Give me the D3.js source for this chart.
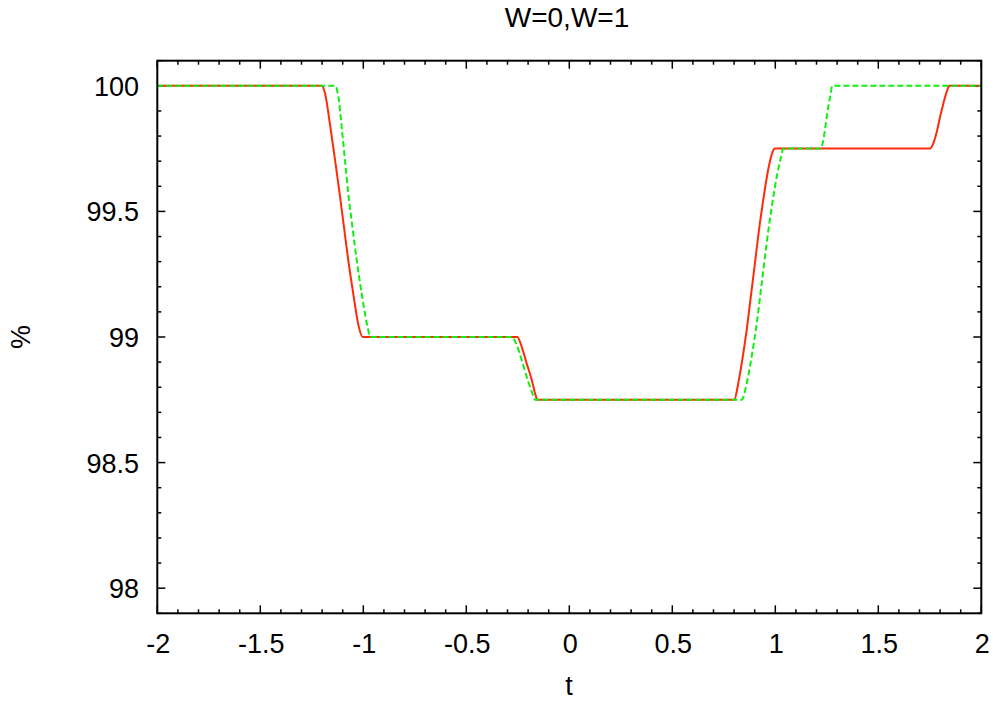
<!DOCTYPE html>
<html>
<head>
<meta charset="utf-8">
<script src="https://cdn.jsdelivr.net/npm/d3@7"></script>
<style>
  body { margin: 0; background: #fff; }
  svg text { font-family: "Liberation Sans", Arial, sans-serif; fill: #000; }
</style>
</head>
<body>
<svg id="chart" width="996" height="702"></svg>
<script>
  // Data
  const xTicks = [-2, -1.5, -1, -0.5, 0, 0.5, 1, 1.5, 2];
  const xTickLabels = ["-2", "-1.5", "-1", "-0.5", "0", "0.5", "1", "1.5", "2"];
  const yTicks = [98, 98.5, 99, 99.5, 100];
  const yTickLabels = ["98", "98.5", "99", "99.5", "100"];

  // W=0 (red, solid)
  const redT = [-2, -1.202, -1.186, -1.160, -1.137, -1.115, -1.094, -1.073, -1.049, -1.022, -1.003,
    -0.252, -0.231, -0.207, -0.182, -0.166, -0.155,
    0.801, 0.820, 0.837, 0.861, 0.885, 0.901, 0.925, 0.942, 0.958, 0.974, 0.987, 0.998,
    1.751, 1.767, 1.784, 1.800, 1.816, 1.832, 1.845, 2];
  const redV = [100, 100, 99.970, 99.837, 99.704, 99.572, 99.439, 99.306, 99.174, 99.041, 99.0,
    99.0, 98.961, 98.895, 98.828, 98.775, 98.75,
    98.75, 98.815, 98.895, 99.027, 99.187, 99.293, 99.452, 99.548, 99.632, 99.700, 99.737, 99.75,
    99.75, 99.771, 99.817, 99.877, 99.930, 99.976, 100, 100];

  // W=1 (green, dashed)
  const greenT = [-2, -1.137, -1.121, -1.105, -1.089, -1.073, -1.053, -1.032, -1.008, -0.983, -0.964,
    -0.280, -0.255, -0.231, -0.207, -0.182, -0.166,
    0.837, 0.861, 0.885, 0.910, 0.934, 0.958, 0.983, 1.007, 1.028, 1.039,
    1.220, 1.236, 1.252, 1.266, 1.277, 2];
  const greenV = [100, 100, 99.956, 99.837, 99.704, 99.572, 99.439, 99.306, 99.174, 99.054, 99.0,
    99.0, 98.968, 98.908, 98.842, 98.782, 98.75,
    98.75, 98.815, 98.921, 99.054, 99.213, 99.373, 99.518, 99.638, 99.717, 99.75,
    99.75, 99.797, 99.890, 99.956, 100, 100];

  const plotLeft = 157.3, plotRight = 981.3, plotTop = 60.7, plotBottom = 613.3;

  const svg = d3.select("#chart");

  const x = d3.scaleLinear().domain([-2, 2]).range([plotLeft, plotRight]);
  const y = d3.scaleLinear().domain([97.9, 100.1]).range([plotBottom, plotTop]);

  // Minor tick positions every 0.1
  const xMinor = d3.range(-20, 21).map(d => d / 10).filter(d => !xTicks.some(t => Math.abs(t - d) < 1e-9));
  const yMinor = d3.range(979, 1002).map(d => d / 10).filter(d => !yTicks.some(t => Math.abs(t - d) < 1e-9));

  const tickGroup = svg.append("g").attr("stroke", "#000").attr("stroke-width", 1.5);

  function drawXTicks(vals, len) {
    vals.forEach(v => {
      tickGroup.append("line").attr("x1", x(v)).attr("x2", x(v)).attr("y1", plotBottom).attr("y2", plotBottom - len);
      tickGroup.append("line").attr("x1", x(v)).attr("x2", x(v)).attr("y1", plotTop).attr("y2", plotTop + len);
    });
  }
  function drawYTicks(vals, len) {
    vals.forEach(v => {
      tickGroup.append("line").attr("x1", plotLeft).attr("x2", plotLeft + len).attr("y1", y(v)).attr("y2", y(v));
      tickGroup.append("line").attr("x1", plotRight).attr("x2", plotRight - len).attr("y1", y(v)).attr("y2", y(v));
    });
  }
  drawXTicks(xTicks, 8);
  drawXTicks(xMinor, 4);
  drawYTicks(yTicks, 8);
  drawYTicks(yMinor, 4);

  // Tick labels
  svg.append("g").selectAll("text")
    .data(xTicks)
    .join("text")
    .attr("x", d => x(d) + 1)
    .attr("y", 653)
    .attr("text-anchor", "middle")
    .attr("font-size", 27)
    .text((d, i) => xTickLabels[i]);

  svg.append("g").selectAll("text")
    .data(yTicks)
    .join("text")
    .attr("x", 139)
    .attr("y", d => y(d) + 10)
    .attr("text-anchor", "end")
    .attr("font-size", 27)
    .text((d, i) => yTickLabels[i]);

  // Curves
  const line = d3.line().curve(d3.curveMonotoneX);
  svg.append("clipPath").attr("id", "plotClip")
    .append("rect").attr("x", plotLeft).attr("y", plotTop)
    .attr("width", plotRight - plotLeft).attr("height", plotBottom - plotTop);

  svg.append("path")
    .attr("clip-path", "url(#plotClip)")
    .attr("d", line(redT.map((t, i) => [x(t), y(redV[i])])))
    .attr("fill", "none")
    .attr("stroke", "#ff2a0a")
    .attr("stroke-width", 2);

  svg.append("path")
    .attr("clip-path", "url(#plotClip)")
    .attr("d", line(greenT.map((t, i) => [x(t), y(greenV[i])])))
    .attr("fill", "none")
    .attr("stroke", "#11ee11")
    .attr("stroke-width", 2)
    .attr("stroke-dasharray", "6,3");

  // Frame
  svg.append("rect")
    .attr("x", plotLeft).attr("y", plotTop)
    .attr("width", plotRight - plotLeft).attr("height", plotBottom - plotTop)
    .attr("fill", "none").attr("stroke", "#000").attr("stroke-width", 2);

  // Title and axis labels
  svg.append("text").attr("x", 567).attr("y", 27).attr("text-anchor", "middle")
    .attr("font-size", 28).text("W=0,W=1");
  svg.append("text").attr("x", 569).attr("y", 695).attr("text-anchor", "middle")
    .attr("font-size", 27).text("t");
  svg.append("text").attr("transform", "translate(30,337) rotate(-90)").attr("text-anchor", "middle")
    .attr("font-size", 27).text("%");
</script>
</body>
</html>
